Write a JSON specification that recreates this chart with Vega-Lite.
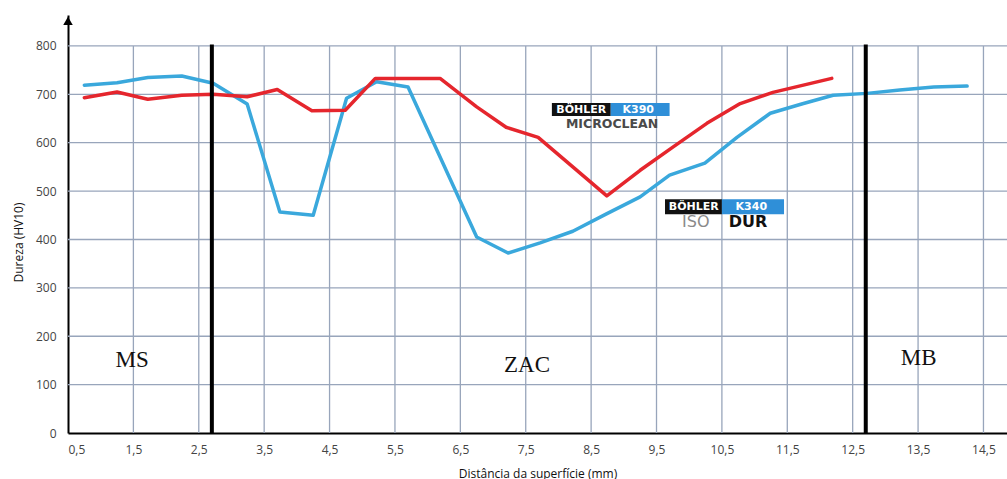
{
  "$schema": "https://vega.github.io/schema/vega-lite/v6.json",
  "width": 939,
  "height": 418,
  "autosize": "none",
  "padding": {"left": 68, "top": 15, "right": 0, "bottom": 46},
  "background": "white",
  "config": {
    "view": {"stroke": null},
    "font": "Open Sans",
    "axis": {
      "ticks": false, "grid": false, "domainColor": "#000000", "domainWidth": 2,
      "labelFontSize": 12, "labelColor": "#444444",
      "titleFontSize": 12, "titleFontWeight": "normal", "titleColor": "#111111"
    }
  },
  "datasets": {
    "curves": [
      {"series": "K340", "x": 0.75, "y": 719}, {"series": "K340", "x": 1.25, "y": 724},
      {"series": "K340", "x": 1.72, "y": 735}, {"series": "K340", "x": 2.24, "y": 738},
      {"series": "K340", "x": 2.72, "y": 723}, {"series": "K340", "x": 3.24, "y": 680},
      {"series": "K340", "x": 3.74, "y": 457}, {"series": "K340", "x": 4.25, "y": 450},
      {"series": "K340", "x": 4.76, "y": 692}, {"series": "K340", "x": 5.22, "y": 726},
      {"series": "K340", "x": 5.7, "y": 715}, {"series": "K340", "x": 6.75, "y": 405},
      {"series": "K340", "x": 7.23, "y": 372}, {"series": "K340", "x": 7.72, "y": 393},
      {"series": "K340", "x": 8.22, "y": 417}, {"series": "K340", "x": 8.72, "y": 452},
      {"series": "K340", "x": 9.25, "y": 488}, {"series": "K340", "x": 9.7, "y": 533},
      {"series": "K340", "x": 10.24, "y": 558}, {"series": "K340", "x": 10.73, "y": 611},
      {"series": "K340", "x": 11.24, "y": 661}, {"series": "K340", "x": 11.72, "y": 680},
      {"series": "K340", "x": 12.2, "y": 698}, {"series": "K340", "x": 12.72, "y": 702},
      {"series": "K340", "x": 13.22, "y": 709}, {"series": "K340", "x": 13.74, "y": 715},
      {"series": "K340", "x": 14.25, "y": 717},
      {"series": "K390", "x": 0.75, "y": 693}, {"series": "K390", "x": 1.25, "y": 705},
      {"series": "K390", "x": 1.72, "y": 690}, {"series": "K390", "x": 2.24, "y": 698},
      {"series": "K390", "x": 2.72, "y": 700}, {"series": "K390", "x": 3.24, "y": 695},
      {"series": "K390", "x": 3.7, "y": 710}, {"series": "K390", "x": 4.23, "y": 666},
      {"series": "K390", "x": 4.74, "y": 667}, {"series": "K390", "x": 5.2, "y": 733},
      {"series": "K390", "x": 6.19, "y": 733}, {"series": "K390", "x": 6.75, "y": 674},
      {"series": "K390", "x": 7.2, "y": 632}, {"series": "K390", "x": 7.69, "y": 611},
      {"series": "K390", "x": 8.74, "y": 490}, {"series": "K390", "x": 9.25, "y": 543},
      {"series": "K390", "x": 9.75, "y": 591}, {"series": "K390", "x": 10.27, "y": 640},
      {"series": "K390", "x": 10.78, "y": 681}, {"series": "K390", "x": 11.28, "y": 704},
      {"series": "K390", "x": 12.18, "y": 733}
    ],
    "xgrid": [
      {"x": 1.5, "y": 0, "yend": 800}, {"x": 2.5, "y": 0, "yend": 800},
      {"x": 3.5, "y": 0, "yend": 800}, {"x": 4.5, "y": 0, "yend": 800},
      {"x": 5.5, "y": 0, "yend": 800}, {"x": 6.5, "y": 0, "yend": 800},
      {"x": 7.5, "y": 0, "yend": 800}, {"x": 8.5, "y": 0, "yend": 800},
      {"x": 9.5, "y": 0, "yend": 800}, {"x": 10.5, "y": 0, "yend": 800},
      {"x": 11.5, "y": 0, "yend": 800}, {"x": 12.5, "y": 0, "yend": 800},
      {"x": 13.5, "y": 0, "yend": 800}, {"x": 14.5, "y": 0, "yend": 800}
    ],
    "ygrid": [
      {"y": 100, "x": 0.5, "xend": 14.86}, {"y": 200, "x": 0.5, "xend": 14.86},
      {"y": 300, "x": 0.5, "xend": 14.86}, {"y": 400, "x": 0.5, "xend": 14.86},
      {"y": 500, "x": 0.5, "xend": 14.86}, {"y": 600, "x": 0.5, "xend": 14.86},
      {"y": 700, "x": 0.5, "xend": 14.86}, {"y": 800, "x": 0.5, "xend": 14.86}
    ],
    "boundaries": [
      {"x": 2.7, "y": 0, "yend": 803},
      {"x": 12.7, "y": 0, "yend": 803}
    ],
    "zones": [
      {"label": "MS", "x": 1.48, "y": 151},
      {"label": "ZAC", "x": 7.52, "y": 140},
      {"label": "MB", "x": 13.51, "y": 155}
    ],
    "logoBrand": [
      {"x": 7.9, "xend": 8.8, "y": 655, "yend": 682},
      {"x": 9.63, "xend": 10.5, "y": 452, "yend": 483}
    ],
    "logoGrade": [
      {"x": 8.8, "xend": 9.7, "y": 655, "yend": 682},
      {"x": 10.5, "xend": 11.45, "y": 452, "yend": 483}
    ],
    "logoText": [
      {"text": "BÖHLER", "x": 8.35, "y": 668},
      {"text": "K390", "x": 9.22, "y": 668},
      {"text": "BÖHLER", "x": 10.07, "y": 467},
      {"text": "K340", "x": 10.95, "y": 467}
    ],
    "arrow": [{"x": 0.5, "y": 852}]
  },
  "encoding": {
    "x": {
      "field": "x", "type": "quantitative",
      "scale": {"domain": [0.5, 14.86], "nice": false, "zero": false},
      "axis": {
        "values": [0.5, 1.5, 2.5, 3.5, 4.5, 5.5, 6.5, 7.5, 8.5, 9.5, 10.5, 11.5, 12.5, 13.5, 14.5],
        "labelExpr": "replace(format(datum.value, '.1f'), '.', ',')",
        "labelPadding": 11,
        "title": "Distância da superfície (mm)", "titleY": 40, "titleBaseline": "middle"
      }
    },
    "y": {
      "field": "y", "type": "quantitative",
      "scale": {"domain": [0, 864], "nice": false},
      "axis": {
        "values": [0, 100, 200, 300, 400, 500, 600, 700, 800],
        "labelPadding": 12,
        "title": "Dureza (HV10)", "titlePadding": 10, "titleY": 227
      }
    }
  },
  "layer": [
    {
      "data": {"name": "xgrid"},
      "mark": {"type": "rule", "stroke": "#98a5bb", "strokeWidth": 1.3},
      "encoding": {"y2": {"field": "yend"}}
    },
    {
      "data": {"name": "ygrid"},
      "mark": {"type": "rule", "stroke": "#98a5bb", "strokeWidth": 1.3},
      "encoding": {"x2": {"field": "xend"}}
    },
    {
      "data": {"name": "curves"},
      "mark": {"type": "line", "strokeWidth": 3.5, "strokeJoin": "round", "strokeCap": "round"},
      "encoding": {
        "color": {
          "field": "series", "type": "nominal",
          "scale": {"domain": ["K340", "K390"], "range": ["#3aa8dc", "#e5262d"]},
          "legend": null
        }
      }
    },
    {
      "data": {"name": "boundaries"},
      "mark": {"type": "rule", "color": "#000000", "strokeWidth": 4},
      "encoding": {"y2": {"field": "yend"}}
    },
    {
      "data": {"name": "arrow"},
      "mark": {"type": "point", "shape": "triangle-up", "filled": true, "color": "#000000", "size": 90, "opacity": 1},
      "encoding": {}
    },
    {
      "data": {"name": "zones"},
      "mark": {"type": "text", "font": "Liberation Serif", "fontSize": 23, "color": "#111111", "align": "center", "baseline": "middle"},
      "encoding": {"text": {"field": "label"}}
    },
    {
      "data": {"name": "logoBrand"},
      "mark": {"type": "rect", "fill": "#111111"},
      "encoding": {"x2": {"field": "xend"}, "y2": {"field": "yend"}}
    },
    {
      "data": {"name": "logoGrade"},
      "mark": {"type": "rect", "fill": "#2f8fd8"},
      "encoding": {"x2": {"field": "xend"}, "y2": {"field": "yend"}}
    },
    {
      "data": {"name": "logoText"},
      "mark": {"type": "text", "font": "DejaVu Sans", "fontSize": 11, "fontWeight": "bold", "color": "#ffffff", "align": "center", "baseline": "middle"},
      "encoding": {"text": {"field": "text"}}
    },
    {
      "data": {"values": [{"text": "MICROCLEAN", "x": 8.82, "y": 638}]},
      "mark": {"type": "text", "font": "DejaVu Sans", "fontSize": 12.5, "fontWeight": "bold", "color": "#4a4a4a", "align": "center", "baseline": "middle"},
      "encoding": {"text": {"field": "text"}}
    },
    {
      "data": {"values": [{"text": "ISO", "x": 10.1, "y": 436}]},
      "mark": {"type": "text", "font": "DejaVu Sans", "fontSize": 16, "color": "#8a8a8a", "align": "center", "baseline": "middle"},
      "encoding": {"text": {"field": "text"}}
    },
    {
      "data": {"values": [{"text": "DUR", "x": 10.9, "y": 436}]},
      "mark": {"type": "text", "font": "DejaVu Sans", "fontSize": 16, "fontWeight": "bold", "color": "#111111", "align": "center", "baseline": "middle"},
      "encoding": {"text": {"field": "text"}}
    }
  ]
}
